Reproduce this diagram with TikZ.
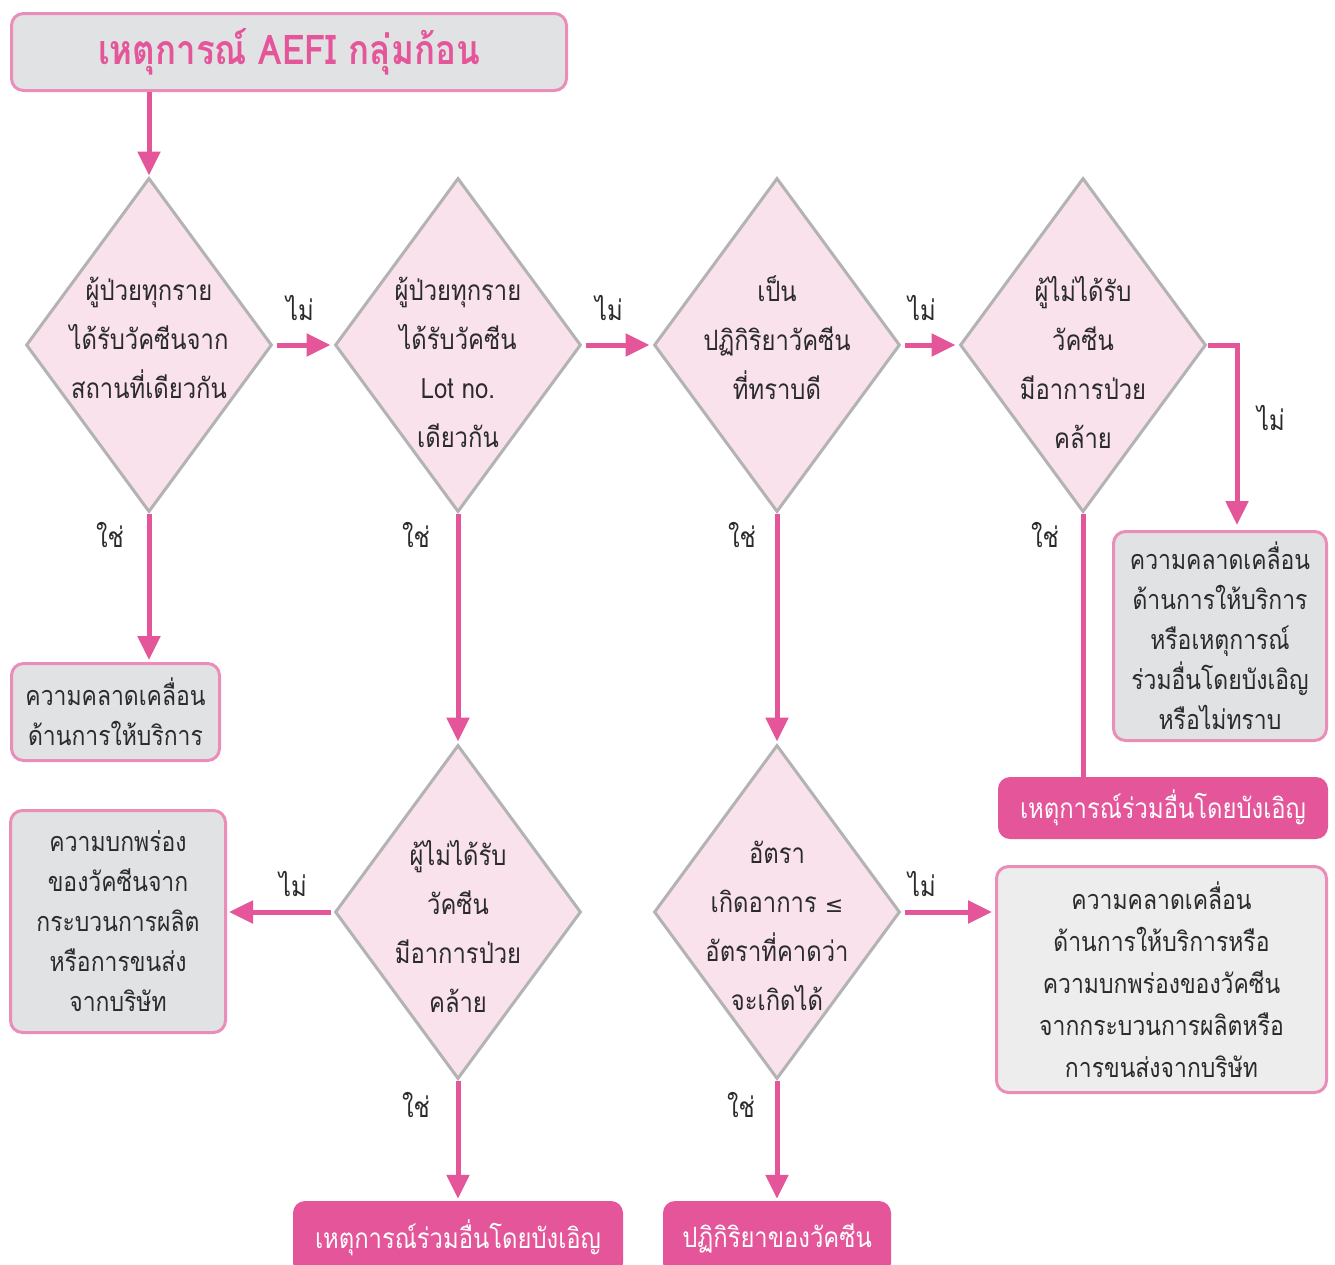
\documentclass[tikz,border=0pt]{standalone}
\usepackage{fontspec}
\setmainfont[Script=Thai,FakeStretch=0.85]{Loma}
\newfontfamily\symfont{DejaVu Sans}
\usetikzlibrary{shapes.geometric,arrows.meta,calc}
\definecolor{pinkline}{HTML}{E4559A}
\definecolor{pinkborder}{HTML}{EB8DB9}
\definecolor{grayfill}{HTML}{E1E2E4}
\definecolor{grayfilltwo}{HTML}{EDEDED}
\definecolor{diafill}{HTML}{F9E2EC}
\definecolor{diaborder}{HTML}{B3B3B3}
\definecolor{textdark}{HTML}{2B2B2B}
\begin{document}
\begin{tikzpicture}[x=1pt,y=-1pt,
  dia/.style={shape=diamond, draw=diaborder, fill=diafill, line width=3pt,
    minimum width=246pt, minimum height=334pt, inner sep=0pt},
  dtext/.style={align=center, font=\fontsize{28}{49}\selectfont, text=textdark, inner sep=0pt},
  graybox/.style={draw=pinkborder, fill=grayfill, line width=3pt, rounded corners=12pt,
    align=center, font=\fontsize{27}{40}\selectfont, text=textdark, inner sep=0pt},
  pinkbox/.style={fill=pinkline, rounded corners=12pt, text=white,
    font=\fontsize{28}{30}\selectfont, inner sep=0pt},
  flow/.style={draw=pinkline, line width=5pt, -{Triangle[width=22pt,length=24pt]}},
  plain/.style={draw=pinkline, line width=5pt},
  lbl/.style={font=\fontsize{28}{30}\selectfont, text=textdark, inner sep=0pt}]
\clip (0,0) rectangle (1335,1264);
\fill[white] (0,0) rectangle (1335,1264);

% title
\node[graybox, minimum width=555pt, minimum height=77pt, text=pinkline,
  font=\fontsize{41}{42}\selectfont\bfseries] (title) at (289,52) {เหตุการณ์ AEFI กลุ่มก้อน};

% diamonds
\node[dia] (d1) at (149,345) {};
\node[dia] (d2) at (458,345) {};
\node[dia] (d3) at (777,345) {};
\node[dia] (d4) at (1083,345) {};
\node[dia] (d5) at (458,912) {};
\node[dia] (d6) at (777,912) {};

\node[dtext] (t1) at (149,338) {ผู้ป่วยทุกราย\\ได้รับวัคซีนจาก\\สถานที่เดียวกัน};
\node[dtext] (t2) at (458,362) {ผู้ป่วยทุกราย\\ได้รับวัคซีน\\Lot no.\\เดียวกัน};
\node[dtext] (t3) at (777,338) {เป็น\\ปฏิกิริยาวัคซีน\\ที่ทราบดี};
\node[dtext] (t4) at (1083,362) {ผู้ไม่ได้รับ\\วัคซีน\\มีอาการป่วย\\คล้าย};
\node[dtext] (t5) at (458,926) {ผู้ไม่ได้รับ\\วัคซีน\\มีอาการป่วย\\คล้าย};
\node[dtext] (t6) at (777,926) {อัตรา\\เกิดอาการ {\symfont\fontsize{22}{49}\selectfont ≤}\\อัตราที่คาดว่า\\จะเกิดได้};

% boxes
\node[graybox, minimum width=208pt, minimum height=97pt] (bA) at (115.5,712) {ความคลาดเคลื่อน\\ด้านการให้บริการ};
\node[graybox, minimum width=213pt, minimum height=209pt] (bB) at (1220,636) {ความคลาดเคลื่อน\\ด้านการให้บริการ\\หรือเหตุการณ์\\ร่วมอื่นโดยบังเอิญ\\หรือไม่ทราบ};
\node[pinkbox, minimum width=330pt, minimum height=62pt] (bC) at (1163,808) {เหตุการณ์ร่วมอื่นโดยบังเอิญ};
\node[graybox, minimum width=215pt, minimum height=222pt] (bD) at (118,921.5) {ความบกพร่อง\\ของวัคซีนจาก\\กระบวนการผลิต\\หรือการขนส่ง\\จากบริษัท};
\node[graybox, fill=grayfilltwo, minimum width=330pt, minimum height=226pt,
  font=\fontsize{27}{42}\selectfont] (bE) at (1161.5,979.5) {ความคลาดเคลื่อน\\ด้านการให้บริการหรือ\\ความบกพร่องของวัคซีน\\จากกระบวนการผลิตหรือ\\การขนส่งจากบริษัท};
\node[pinkbox, minimum width=330pt, minimum height=74pt] (bF) at (458,1238) {เหตุการณ์ร่วมอื่นโดยบังเอิญ};
\node[pinkbox, minimum width=228pt, minimum height=74pt] (bG) at (777,1238) {ปฏิกิริยาของวัคซีน};

% connectors
\draw[flow, shorten >=1pt] (d1 |- title.south) -- (d1.north);
\draw[flow, shorten <=3pt, shorten >=3pt] (d1.east) -- (d2.west);
\draw[flow, shorten <=3pt, shorten >=3pt] (d2.east) -- (d3.west);
\draw[flow, shorten <=3pt, shorten >=3pt] (d3.east) -- (d4.west);
\coordinate (c4) at (1237,345);
\draw[flow, shorten >=5pt] (d4.east) -- (c4) -- (c4 |- bB.north);
\draw[plain] (d4.south) -- (d4.south |- bC.north);
\draw[flow, shorten >=2pt] (d1.south) -- (d1.south |- bA.north);
\draw[flow, shorten >=2pt] (d2.south) -- (d5.north);
\draw[flow, shorten >=2pt] (d3.south) -- (d6.north);
\draw[flow, shorten <=3pt, shorten >=2pt] (d5.west) -- (d5.west -| bD.east);
\draw[flow, shorten <=3pt, shorten >=3pt] (d6.east) -- (d6.east -| bE.west);
\draw[flow, shorten >=2pt] (d5.south) -- (d5.south |- bF.north);
\draw[flow, shorten >=2pt] (d6.south) -- (d6.south |- bG.north);

% labels
\node[lbl] (n1) at (300,308) {ไม่};
\node[lbl] (n2) at (609,308) {ไม่};
\node[lbl] (n3) at (922,308) {ไม่};
\node[lbl] (n4) at (1271,418) {ไม่};
\node[lbl] (n5) at (293,884) {ไม่};
\node[lbl] (n6) at (922,884) {ไม่};
\node[lbl] (y1) at (110,535) {ใช่};
\node[lbl] (y2) at (416,535) {ใช่};
\node[lbl] (y3) at (742,535) {ใช่};
\node[lbl] (y4) at (1045,535) {ใช่};
\node[lbl] (y5) at (416,1105) {ใช่};
\node[lbl] (y6) at (741,1105) {ใช่};
\end{tikzpicture}
\end{document}
